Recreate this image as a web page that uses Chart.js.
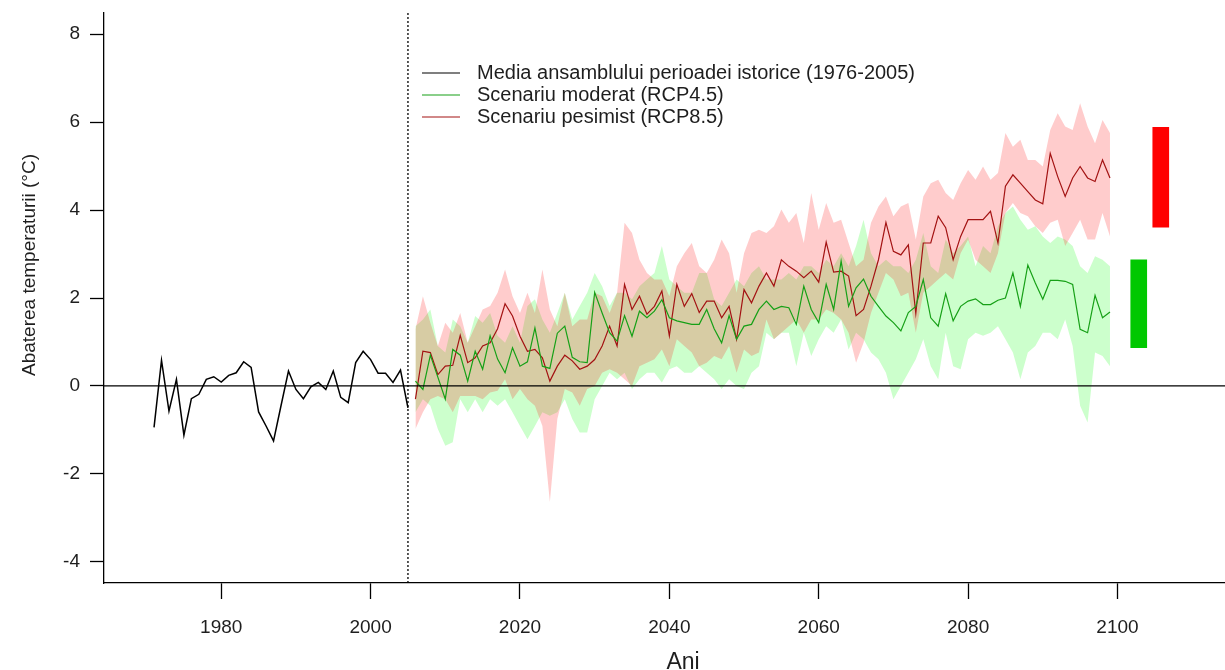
<!DOCTYPE html>
<html>
<head>
<meta charset="utf-8">
<script src="https://cdn.jsdelivr.net/npm/chart.js@4.4.1/dist/chart.umd.min.js"></script>
<style>
    html, body { margin: 0; padding: 0; background: #ffffff; }
    #wrap { width: 1225px; height: 670px; }
</style>
</head>
<body>
<div id="wrap"><canvas id="anomaly_chart" width="1225" height="670"></canvas></div>
<script>
// Temperature anomaly (°C) relative to the 1976-2005 reference period
var hist_start = 1971;
var hist_mean = [
    -0.94, 0.58, -0.57, 0.15, -1.12, -0.29, -0.19, 0.15, 0.21, 0.09,
    0.24, 0.30, 0.55, 0.42, -0.59, -0.91, -1.25, -0.45, 0.34, -0.08,
    -0.29, -0.02, 0.08, -0.08, 0.34, -0.26, -0.38, 0.53, 0.79, 0.60,
    0.29, 0.29, 0.08, 0.36, -0.50
];

var split_year = 2005;
var scen_start = 2006;

// RCP4.5 ensemble mean and spread, 2006-2099
var rcp45_mean = [
    0.11, -0.08, 0.70, 0.20, -0.30, 0.83, 0.70, 0.11, 0.79, 0.38,
    1.14, 0.61, 0.30, 0.87, 0.45, 0.55, 1.32, 0.45, 0.40, 1.20,
    1.36, 0.65, 0.55, 0.53, 2.13, 1.66, 1.21, 1.02, 1.60, 1.13,
    1.70, 1.55, 1.70, 1.96, 1.55, 1.48, 1.44, 1.40, 1.40, 1.74,
    1.30, 0.98, 1.60, 1.06, 1.36, 1.40, 1.74, 1.93, 1.74, 1.81,
    1.78, 1.40, 2.27, 1.74, 1.44, 2.31, 1.74, 2.84, 1.81, 2.23,
    2.43, 2.04, 1.81, 1.59, 1.44, 1.25, 1.67, 1.81, 2.42, 1.55,
    1.36, 2.10, 1.48, 1.81, 1.93, 1.98, 1.85, 1.85, 1.95, 2.00,
    2.57, 1.81, 2.75, 2.34, 1.97, 2.40, 2.40, 2.38, 2.31, 1.29,
    1.21, 2.06, 1.55, 1.68
];
var rcp45_max = [
    1.36, 1.51, 1.74, 0.91, 0.76, 1.51, 1.36, 0.98, 1.59, 1.44,
    1.66, 1.14, 0.98, 1.36, 0.98, 1.82, 1.97, 1.51, 1.21, 1.66,
    2.12, 1.51, 1.82, 2.12, 2.57, 2.27, 1.82, 2.12, 2.12, 1.97,
    2.27, 2.42, 2.57, 3.18, 2.42, 2.27, 2.12, 2.12, 2.57, 2.57,
    1.97, 1.82, 2.12, 2.42, 2.27, 2.57, 2.72, 2.42, 2.42, 2.42,
    2.57, 2.42, 2.72, 2.72, 2.57, 2.87, 2.72, 3.02, 2.72, 3.18,
    3.78, 3.02, 2.72, 2.87, 2.72, 2.72, 2.57, 2.87, 3.48, 2.72,
    2.57, 3.33, 3.02, 3.18, 3.40, 2.72, 3.18, 3.02, 3.63, 3.93,
    4.08, 3.78, 3.55, 3.63, 3.40, 3.25, 3.40, 3.33, 3.18, 2.72,
    2.57, 2.95, 2.87, 2.72
];
var rcp45_min = [
    -0.60, -0.30, -0.45, -0.98, -1.36, -1.28, -0.30, -0.60, -0.30, -0.60,
    -0.30, -0.45, -0.30, -0.60, -0.91, -1.21, -0.91, -0.60, -0.68, -0.60,
    -0.30, -0.75, -1.06, -1.06, -0.30, 0.00, 0.30, 0.15, 0.30, -0.07,
    0.15, 0.30, 0.30, 0.08, 0.38, 0.45, 0.30, 0.30, 0.45, 0.30,
    0.15, -0.07, 0.15, 0.00, -0.07, 0.30, 0.45, 1.21, 1.06, 1.21,
    1.21, 0.45, 1.21, 0.68, 1.06, 1.36, 1.21, 1.51, 0.83, 1.21,
    1.06, 0.76, 0.61, 0.30, -0.30, 0.00, 0.30, 0.61, 1.06, 0.45,
    0.15, 1.21, 0.45, 0.38, 1.06, 1.21, 1.14, 1.21, 1.36, 1.06,
    0.76, 0.15, 0.76, 0.91, 1.21, 1.21, 1.06, 1.51, 0.91, -0.45,
    -0.83, 0.76, 0.68, 0.45
];

// RCP8.5 ensemble mean and spread, 2006-2099
var rcp85_mean = [
    -0.30, 0.79, 0.76, 0.26, 0.45, 0.47, 1.15, 0.53, 0.64, 0.91,
    0.98, 1.30, 1.87, 1.59, 1.13, 0.79, 0.83, 0.64, 0.11, 0.45,
    0.70, 0.57, 0.38, 0.45, 0.60, 0.91, 1.36, 0.91, 2.31, 1.74,
    2.04, 1.63, 1.81, 2.16, 1.14, 2.31, 1.81, 2.10, 1.67, 1.93,
    1.93, 1.55, 1.81, 1.06, 2.19, 1.89, 2.27, 2.57, 2.27, 2.87,
    2.72, 2.61, 2.46, 2.61, 2.36, 3.27, 2.59, 2.61, 2.50, 1.60,
    1.74, 2.27, 2.87, 3.72, 3.06, 2.98, 3.21, 1.65, 3.25, 3.25,
    3.86, 3.60, 2.87, 3.40, 3.78, 3.78, 3.78, 3.97, 3.25, 4.54,
    4.80, 4.61, 4.42, 4.23, 4.14, 5.29, 4.76, 4.31, 4.73, 4.99,
    4.73, 4.65, 5.14, 4.73
];
var rcp85_max = [
    1.29, 2.04, 1.44, 0.91, 1.44, 1.21, 1.66, 0.98, 1.36, 1.74,
    1.82, 2.12, 2.65, 2.04, 1.66, 2.12, 1.66, 2.65, 1.74, 1.36,
    2.12, 1.36, 1.51, 1.51, 2.12, 2.04, 1.66, 2.12, 3.71, 3.48,
    2.87, 2.57, 2.42, 2.42, 2.04, 2.72, 3.02, 3.25, 2.72, 2.57,
    2.87, 3.33, 3.02, 2.12, 3.02, 3.48, 3.55, 3.48, 3.63, 4.01,
    3.71, 3.93, 3.25, 4.39, 3.55, 4.16, 3.71, 3.78, 3.25, 2.72,
    2.87, 3.71, 4.08, 4.31, 3.86, 4.08, 4.16, 3.33, 4.31, 4.61,
    4.69, 4.39, 4.23, 4.61, 4.91, 4.69, 4.99, 4.69, 4.84, 5.75,
    5.44, 5.60, 5.14, 5.14, 4.99, 5.82, 6.20, 5.90, 5.82, 6.43,
    5.90, 5.52, 6.05, 5.75
];
var rcp85_min = [
    -0.98, -0.60, -0.30, -0.23, -0.30, -0.60, -0.23, -0.23, -0.23, -0.30,
    -0.15, -0.11, 0.15, -0.30, -0.07, -0.30, -0.45, -0.91, -2.64, -0.75,
    -0.07, -0.15, -0.45, -0.07, 0.00, 0.30, 0.38, 0.30, 0.15, 0.00,
    0.45, 0.53, 0.61, 0.83, 0.45, 1.06, 0.91, 0.76, 0.45, 0.53,
    0.68, 0.61, 0.91, 0.30, 0.83, 0.68, 0.76, 1.51, 1.06, 1.21,
    1.36, 1.51, 1.21, 1.51, 1.51, 1.74, 1.66, 1.51, 1.21, 0.53,
    0.98, 1.66, 2.12, 2.57, 2.42, 2.04, 2.12, 1.21, 2.12, 2.27,
    2.42, 2.57, 2.42, 3.02, 3.33, 2.87, 2.72, 2.57, 3.02, 3.93,
    4.16, 3.93, 3.86, 3.63, 3.48, 3.71, 3.78, 3.18, 3.48, 3.78,
    3.33, 3.33, 3.93, 3.40
];

// End-of-century warming ranges shown as bars to the right of the series
var range_x = [2102.85, 2105.8];
var range_low = [0.87, 3.61];
var range_high = [2.87, 5.88];

var x_ticks = [1980, 2000, 2020, 2040, 2060, 2080, 2100];
var y_ticks = [-4, -2, 0, 2, 4, 6, 8];

var legend_labels = [
    "Media ansamblului perioadei istorice (1976-2005)",
    "Scenariu moderat (RCP4.5)",
    "Scenariu pesimist (RCP8.5)"
];

var font_family = "'Liberation Sans', Arial, sans-serif";
var text_color = "#1e1e1e";

function to_points (start, values) {
    var points = [];

    for (var i = 0; i < values.length; i++) {
        points.push({"x": start + i, "y": values[i]});
    }

    return points;
}

function line_dataset (label, start, values, color, width) {
    return {
        "label": label,
        "data": to_points(start, values),
        "borderColor": color,
        "borderWidth": width,
        "pointRadius": 0,
        "tension": 0,
        "fill": false,
        "order": 0,
        "in_legend": true
    };
}

function band_datasets (start, upper, lower, color, order) {
    var clear = "rgba(0,0,0,0)";

    return [
        {
            "data": to_points(start, upper),
            "borderColor": clear,
            "borderWidth": 0,
            "backgroundColor": color,
            "pointRadius": 0,
            "tension": 0,
            "fill": "+1",
            "order": order
        },
        {
            "data": to_points(start, lower),
            "borderColor": clear,
            "borderWidth": 0,
            "pointRadius": 0,
            "tension": 0,
            "fill": false,
            "order": order
        }
    ];
}

var range_points = [];

for (var r = 0; r < range_x.length; r++) {
    range_points.push({"x": range_x[r], "y": [range_low[r], range_high[r]]});
}

var datasets = [
    line_dataset(legend_labels[0], hist_start, hist_mean, "#000000", 1.5),
    line_dataset(legend_labels[1], scen_start, rcp45_mean, "#16a016", 1.2),
    line_dataset(legend_labels[2], scen_start, rcp85_mean, "#a31212", 1.2)
];

datasets = datasets.concat(band_datasets(scen_start, rcp85_max, rcp85_min, "rgba(255,0,0,0.2)", 1));
datasets = datasets.concat(band_datasets(scen_start, rcp45_max, rcp45_min, "rgba(0,255,0,0.2)", 2));

datasets.push({
    "type": "bar",
    "data": range_points,
    "backgroundColor": ["#00c800", "#ff0000"],
    "borderWidth": 0,
    "barThickness": 16,
    "order": 0
});

// Reference lines, legend and axis titles drawn on top of the series
var overlay_plugin = {
    "id": "overlay",

    "afterDatasetsDraw": function (chart) {
        var ctx = chart.ctx;
        var area = chart.chartArea;
        var y0 = chart.scales.y.getPixelForValue(0);
        var xs = chart.scales.x.getPixelForValue(split_year);

        ctx.save();
        ctx.strokeStyle = "#000000";
        ctx.lineWidth = 1.3;

        ctx.beginPath();
        ctx.moveTo(area.left, y0);
        ctx.lineTo(area.right, y0);
        ctx.stroke();

        ctx.setLineDash([2, 2]);
        ctx.beginPath();
        ctx.moveTo(xs, area.top);
        ctx.lineTo(xs, area.bottom);
        ctx.stroke();
        ctx.restore();
    },

    "afterDraw": function (chart) {
        var ctx = chart.ctx;
        var row_y = 73;

        ctx.save();
        ctx.font = "20px " + font_family;
        ctx.textBaseline = "middle";
        ctx.textAlign = "left";

        chart.data.datasets.forEach(function (ds) {
            if (!ds.in_legend) {
                return;
            }

            ctx.strokeStyle = ds.borderColor;
            ctx.lineWidth = 1.2;
            ctx.beginPath();
            ctx.moveTo(422, row_y);
            ctx.lineTo(460, row_y);
            ctx.stroke();

            ctx.fillStyle = text_color;
            ctx.fillText(ds.label, 477, row_y);

            row_y += 22;
        });

        ctx.fillStyle = text_color;
        ctx.textAlign = "center";
        ctx.textBaseline = "alphabetic";
        ctx.font = "23px " + font_family;
        ctx.fillText("Ani", 683, 669);

        ctx.translate(30, 265);
        ctx.rotate(-Math.PI / 2);
        ctx.textBaseline = "middle";
        ctx.font = "19px " + font_family;
        ctx.fillText("Abaterea temperaturii (°C)", 0, 0);
        ctx.restore();
    }
};

function axis_style (tick_length, padding, tick_values) {
    return {
        "type": "linear",
        "grid": {
            "offset": false,
            "drawOnChartArea": false,
            "drawTicks": true,
            "tickLength": tick_length,
            "tickColor": "#000000",
            "tickWidth": 1.3
        },
        "border": {
            "display": true,
            "color": "#000000",
            "width": 1.3
        },
        "ticks": {
            "color": text_color,
            "padding": padding,
            "autoSkip": false,
            "maxRotation": 0,
            "font": {"family": font_family, "size": 19},
            "callback": function (value) {
                return String(value);
            }
        },
        "afterBuildTicks": function (scale) {
            scale.ticks = tick_values.map(function (v) {
                return {"value": v};
            });
        }
    };
}

var x_axis = axis_style(16, 17, x_ticks);
x_axis.min = 1964.3;
x_axis.max = 2114.4;
x_axis.offset = false;
x_axis.afterFit = function (scale) {
    scale.height = 87;
    scale.paddingLeft = 0;
    scale.paddingRight = 0;
};

var y_axis = axis_style(14, 10, y_ticks);
y_axis.min = -4.48;
y_axis.max = 8.48;
y_axis.afterFit = function (scale) {
    scale.width = 104;
    scale.paddingTop = 0;
    scale.paddingBottom = 0;
};

new Chart(document.getElementById("anomaly_chart").getContext("2d"), {
    "type": "line",
    "data": {"datasets": datasets},
    "options": {
        "responsive": false,
        "animation": false,
        "maintainAspectRatio": false,
        "layout": {"padding": {"top": 13, "left": 0, "right": 0, "bottom": 0}},
        "scales": {"x": x_axis, "y": y_axis},
        "plugins": {
            "legend": {"display": false},
            "tooltip": {"enabled": false},
            "title": {"display": false}
        }
    },
    "plugins": [overlay_plugin]
});
</script>
</body>
</html>
